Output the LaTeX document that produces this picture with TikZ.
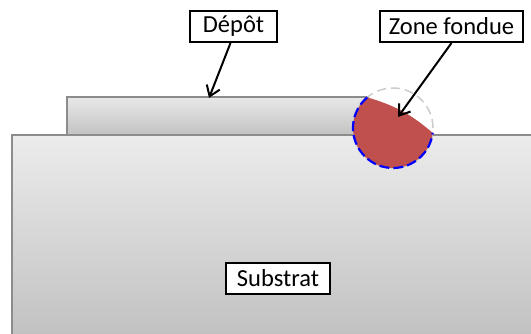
\documentclass[tikz,border=0pt]{standalone}
\usepackage{fontspec}
\setmainfont{Carlito}
\usetikzlibrary{arrows.meta, calc}
\definecolor{meltred}{HTML}{C0504D}
\tikzset{
  label box/.style={draw=black, line width=2pt, fill=white, inner xsep=4pt, inner ysep=2pt,
    minimum height=31pt, font=\fontsize{24.5}{28}\selectfont},
  pointer/.style={line width=2pt, black, -{Straight Barb[length=10pt, width=14pt, line width=2pt]}}
}
\begin{document}
\begin{tikzpicture}[x=1pt, y=1pt]
  \useasboundingbox (0,0) rectangle (531,334);
  \clip (0,0) rectangle (531,334);

  % Substrate and deposit
  \draw[gray!90, line width=1.2pt, top color=gray!15, bottom color=gray!50] (12,-12) rectangle (560,199);
  \draw[gray!90, line width=1.2pt, top color=gray!18, bottom color=gray!48] (67,199) rectangle (368,237);

  % Melted zone
  \coordinate (c) at (393,206);
  \draw[gray!40, line width=1.5pt, dash pattern=on 9pt off 5pt] (c) circle (40);
  \fill[meltred] ($(c)+(130:40)$) arc[start angle=130, end angle=353, radius=40]
    to[bend right=12] ($(c)+(130:40)$);
  \draw[blue, line width=2.2pt, dash pattern=on 10pt off 4pt] ($(c)+(130:40)$) arc[start angle=130, end angle=353, radius=40];

  % Labels
  \node[label box, minimum width=87pt] (depot) at (233.5,307.5) {Dépôt};
  \node[label box, minimum width=143pt] (zone) at (451.5,307.5) {Zone fondue};
  \node[label box, minimum width=104pt] (substrat) at (278,55.5) {Substrat};

  % Arrows
  \coordinate (depot tip) at (209,236);
  \coordinate (zone tip) at (398,217);
  \draw[pointer] ([xshift=-3pt]depot.south) -- (depot tip);
  \draw[pointer] (zone.south) -- (zone tip);
\end{tikzpicture}
\end{document}
